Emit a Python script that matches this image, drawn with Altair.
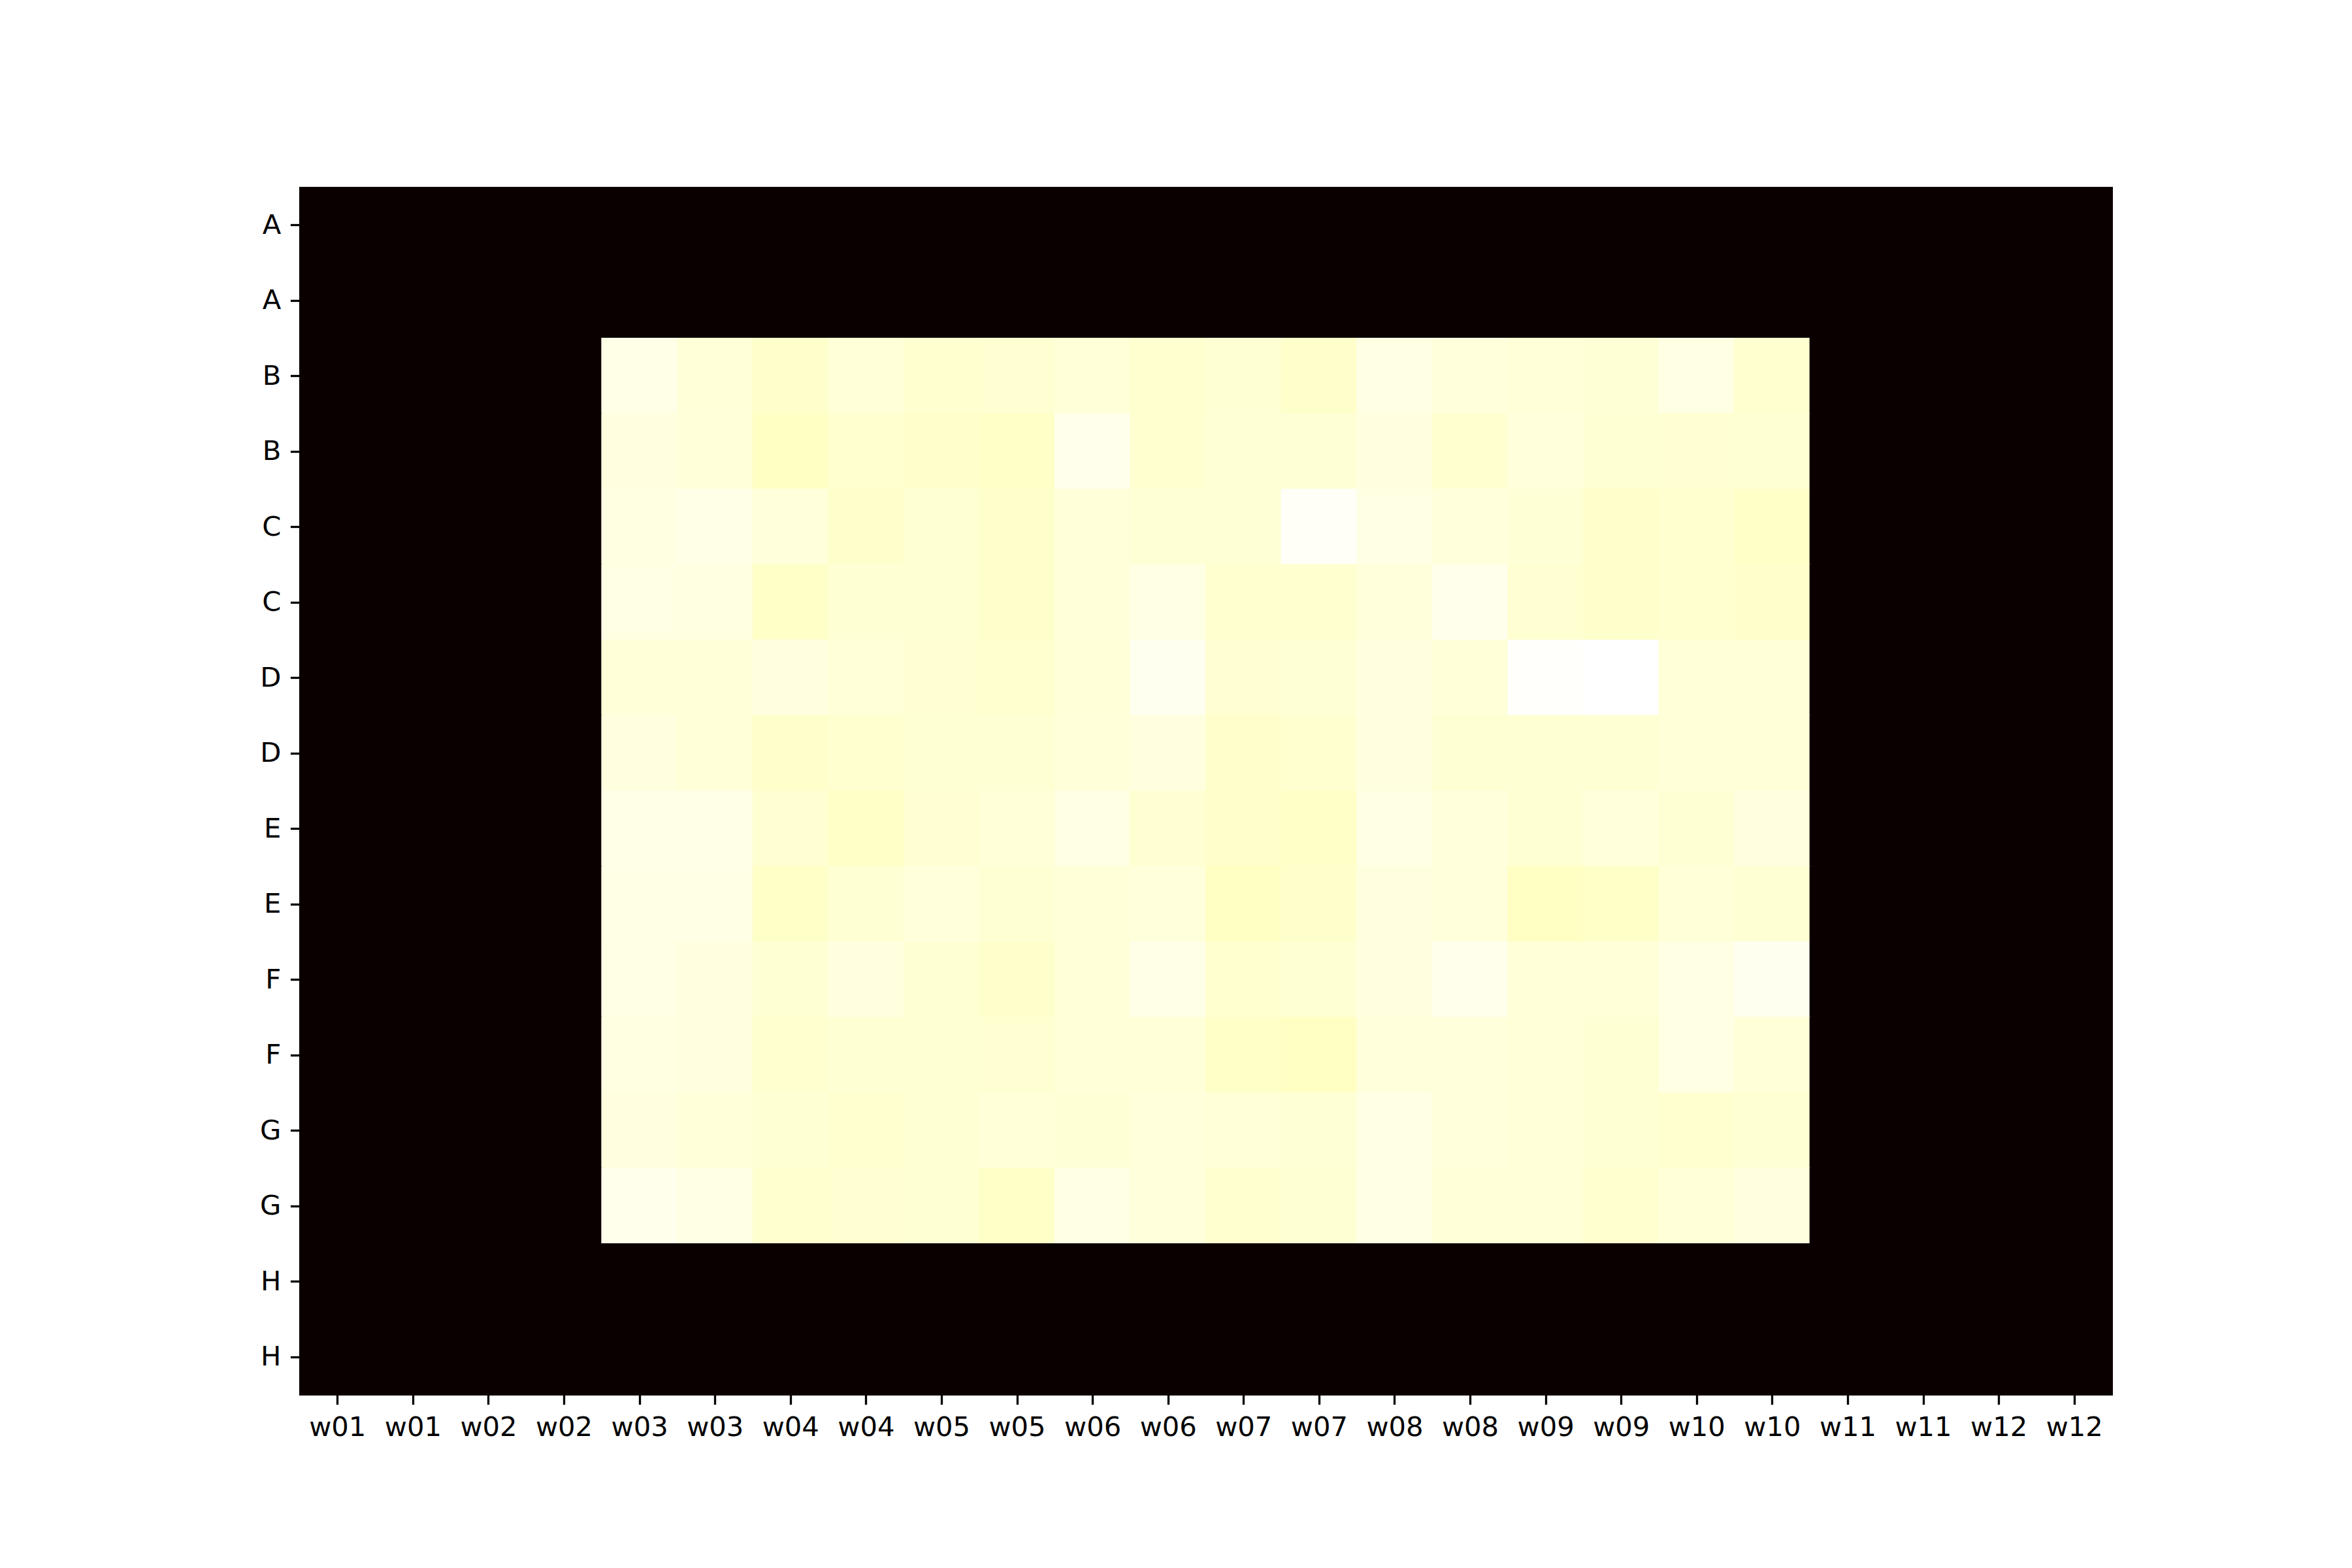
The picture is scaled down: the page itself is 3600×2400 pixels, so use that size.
import altair as alt
import pandas as pd

# Axis categories (duplicated labels, as in the reference)
row_labels = ["A", "A", "B", "B", "C", "C", "D", "D",
              "E", "E", "F", "F", "G", "G", "H", "H"]
col_labels = ["w01", "w01", "w02", "w02", "w03", "w03", "w04", "w04",
              "w05", "w05", "w06", "w06", "w07", "w07", "w08", "w08",
              "w09", "w09", "w10", "w10", "w11", "w11", "w12", "w12"]

# Border cells (rows A,H and columns w01,w02,w11,w12) are at the minimum
border_value = 0.0

# Inner block: rows B..G (12 rows), columns w03..w10 (16 columns)
row_B1 = [97.7, 96.1, 94.9, 96.1, 95.3, 95.5, 96.1, 95.3, 95.7, 94.9, 97.3, 96.5, 96.1, 95.9, 97.3, 95.3]
row_B2 = [96.9, 96.3, 94.1, 95.3, 94.9, 94.5, 98.1, 95.3, 95.9, 95.9, 96.9, 95.3, 96.5, 95.7, 95.5, 95.7]
row_C1 = [97.1, 97.7, 96.5, 94.9, 95.7, 94.9, 96.3, 95.9, 95.9, 99.3, 97.3, 96.5, 95.9, 94.9, 95.3, 94.5]
row_C2 = [97.3, 97.1, 94.5, 95.7, 95.7, 94.9, 96.3, 97.3, 95.3, 95.3, 96.5, 98.1, 95.5, 94.9, 95.3, 94.9]
row_D1 = [96.1, 96.1, 96.9, 96.1, 95.5, 95.3, 96.1, 98.5, 95.5, 95.9, 96.9, 96.1, 99.7, 100.0, 96.1, 96.1]
row_D2 = [96.9, 96.1, 94.9, 95.3, 95.7, 95.7, 96.3, 96.9, 94.9, 95.3, 96.9, 95.7, 95.7, 95.7, 96.1, 96.1]
row_E1 = [97.7, 97.7, 95.5, 94.5, 95.5, 96.1, 97.3, 95.5, 94.9, 94.5, 97.3, 96.5, 95.7, 96.5, 95.7, 96.9]
row_E2 = [97.5, 97.5, 94.5, 95.7, 96.5, 95.7, 96.1, 96.5, 94.1, 94.9, 96.9, 96.5, 94.1, 94.5, 96.1, 95.7]
row_F1 = [97.3, 96.9, 95.7, 96.9, 95.7, 94.9, 96.1, 97.7, 95.3, 95.7, 96.9, 98.1, 96.1, 96.1, 97.3, 98.5]
row_F2 = [97.1, 96.9, 95.3, 95.7, 95.7, 95.5, 96.1, 96.1, 94.5, 94.1, 96.5, 96.5, 96.1, 95.7, 97.3, 96.1]
row_G1 = [96.9, 96.3, 95.7, 95.3, 95.7, 96.1, 95.9, 96.5, 96.1, 95.9, 97.3, 96.5, 96.1, 95.7, 95.3, 95.7]
row_G2 = [98.1, 97.3, 95.3, 95.5, 95.7, 94.5, 97.3, 96.5, 95.3, 95.7, 97.5, 96.1, 96.1, 95.3, 96.1, 96.9]

inner_rows = [row_B1, row_B2, row_C1, row_C2, row_D1, row_D2,
              row_E1, row_E2, row_F1, row_F2, row_G1, row_G2]
inner_row_start = 2
inner_col_start = 4

row_keys = [f"{lab}_{i}" for i, lab in enumerate(row_labels)]
col_keys = [f"{lab}_{j}" for j, lab in enumerate(col_labels)]

records = []
for i, rk in enumerate(row_keys):
    for j, ck in enumerate(col_keys):
        ii = i - inner_row_start
        jj = j - inner_col_start
        if 0 <= ii < len(inner_rows) and 0 <= jj < len(inner_rows[0]):
            v = inner_rows[ii][jj]
        else:
            v = border_value
        records.append({"row": rk, "col": ck, "value": v})
df = pd.DataFrame(records)

# matplotlib "hot" colormap as a piecewise-linear scale
hot = alt.Scale(type="linear", domain=[0, 36.5079, 74.6032, 100],
                range=["#0b0000", "#ff0000", "#ffff00", "#ffffff"],
                interpolate="rgb", clamp=True)

FONT = "DejaVu Sans"
FS = 41.7

chart = alt.Chart(df).mark_rect(strokeWidth=2, opacity=1, strokeOpacity=1).encode(
    x=alt.X("col:O", sort=col_keys, title=None,
            scale=alt.Scale(paddingInner=0, paddingOuter=0),
            axis=alt.Axis(labelExpr="split(datum.value, '_')[0]", labelAngle=0,
                          labelFont=FONT, labelFontSize=FS, labelColor="black",
                          tickSize=14.6, tickWidth=3.3, tickColor="black",
                          labelPadding=14.6, domain=False)),
    y=alt.Y("row:O", sort=row_keys, title=None,
            scale=alt.Scale(paddingInner=0, paddingOuter=0),
            axis=alt.Axis(labelExpr="split(datum.value, '_')[0]",
                          labelFont=FONT, labelFontSize=FS, labelColor="black",
                          tickSize=14.6, tickWidth=3.3, tickColor="black",
                          labelPadding=14.6, domain=False)),
    color=alt.Color("value:Q", scale=hot, legend=None),
    stroke=alt.Stroke("value:Q", scale=hot, legend=None),
).properties(
    width=2774, height=1848,
    autosize=alt.AutoSizeParams(type="none"),
    padding={"left": 459, "top": 287, "right": 367, "bottom": 265},
    background="white",
).configure_view(stroke=None)

chart.save("out.html", embed_options={"renderer": "svg", "actions": False})
